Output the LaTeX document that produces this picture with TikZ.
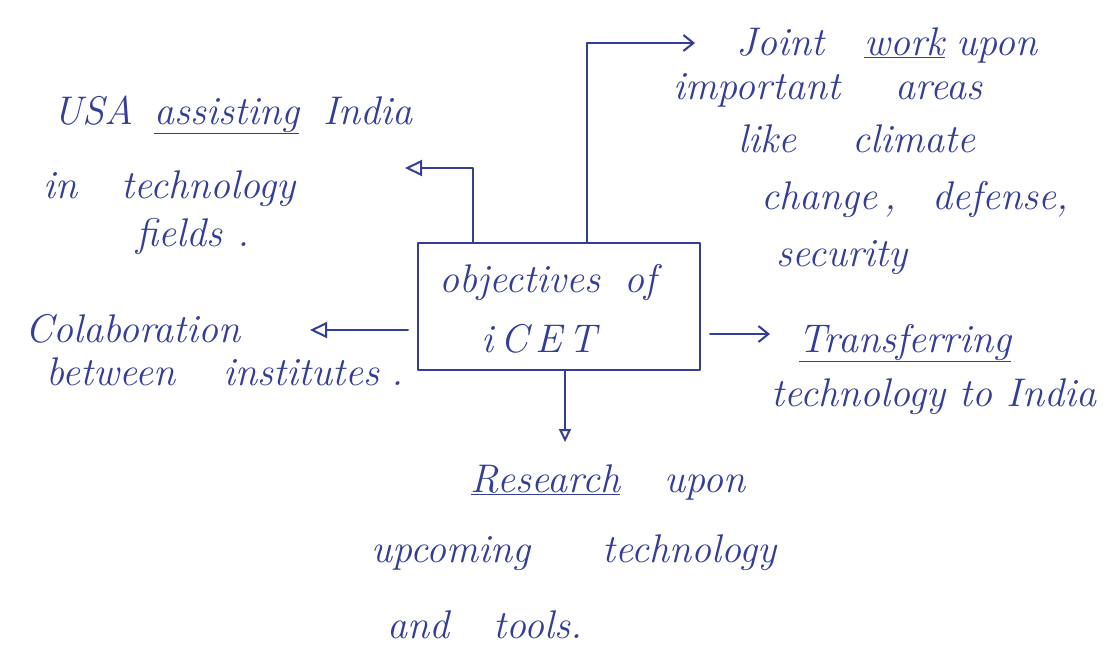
\documentclass[tikz,border=0pt]{standalone}
\usetikzlibrary{arrows.meta}
\definecolor{ink}{RGB}{52,62,150}
\begin{document}
\begin{tikzpicture}[x=1pt, y=-1pt,
  ink line/.style={draw=ink, line width=2pt, line cap=round, line join=round},
  note/.style={text=ink, anchor=base, inner sep=0pt,
    font=\fontsize{40}{46}\selectfont\itshape},
  openhead/.style={ink line, -{Triangle[open, length=17pt, width=16pt, line width=2pt]}},
  barbhead/.style={ink line, -{Straight Barb[length=10pt, width=16pt, line width=2pt]}},
  downhead/.style={ink line, -{Triangle[open, length=13pt, width=12pt, line width=2pt]}},
  centrebox/.style={ink line, rectangle, minimum width=282pt, minimum height=127pt, inner sep=0pt}]
\useasboundingbox (0,0) rectangle (1119,651);
\fill[white] (0,0) rectangle (1119,651);

% central box
\node[centrebox] (box) at (559,306) {};
\node[note] (obj) at (548,292) {objectives\hspace{0.6em}of};
\node[note] (icet) at (539,352) {i\,C\,E\,T};

% USA assisting India in technology fields
\node[note] (usa1) at (233,124) {USA\hspace{0.5em}\underline{assisting}\hspace{0.6em}India};
\node[note] (usa2) at (169,198) {in\hspace{1.1em}technology};
\node[note] (usa3) at (193,246) {fields\hspace{0.4em}.};

% Joint work upon important areas
\node[note] (joint1) at (887,55) {Joint\hspace{1em}\underline{work}\hspace{0.3em}upon};
\node[note] (joint2) at (828,99) {important\hspace{1.4em}areas};
\node[note] (joint3) at (857,152) {like\hspace{1.4em}climate};
\node[note] (joint4) at (915,209) {change\,,\hspace{0.9em}defense,};
\node[note] (joint5) at (842,266) {security};

% Colaboration between institutes
\node[note] (col1) at (133,342) {Colaboration};
\node[note] (col2) at (225,385) {between\hspace{1.2em}institutes\hspace{0.3em}.};

% Transferring technology to India
\node[note] (tr1) at (905,352) {\underline{Transferring}};
\node[note] (tr2) at (934,406) {technology to India};

% Research upon upcoming technology and tools
\node[note] (res1) at (608,492) {\underline{Research}\hspace{1.1em}upon};
\node[note] (res2) at (574,562) {upcoming\hspace{1.8em}technology};
\node[note] (res3) at (485,638) {and\hspace{1.1em}tools.};

% free ends of the connectors
\coordinate (tipUSA) at (405,168);
\coordinate (tipJoint) at (695,43);
\coordinate (tipCol) at (310,330);
\coordinate (tipTr) at (770,334);
\coordinate (tipRes) at (565,442);

% connectors
\draw[openhead] ([xshift=-86pt]box.north) |- (tipUSA);
\draw[barbhead] ([xshift=28pt]box.north) |- (tipJoint);
\draw[openhead, shorten <=9pt] (box.west |- tipCol) -- (tipCol);
\draw[barbhead, shorten <=9pt] (box.east |- tipTr) -- (tipTr);
\draw[downhead] (box.south -| tipRes) -- (tipRes);
\end{tikzpicture}
\end{document}
